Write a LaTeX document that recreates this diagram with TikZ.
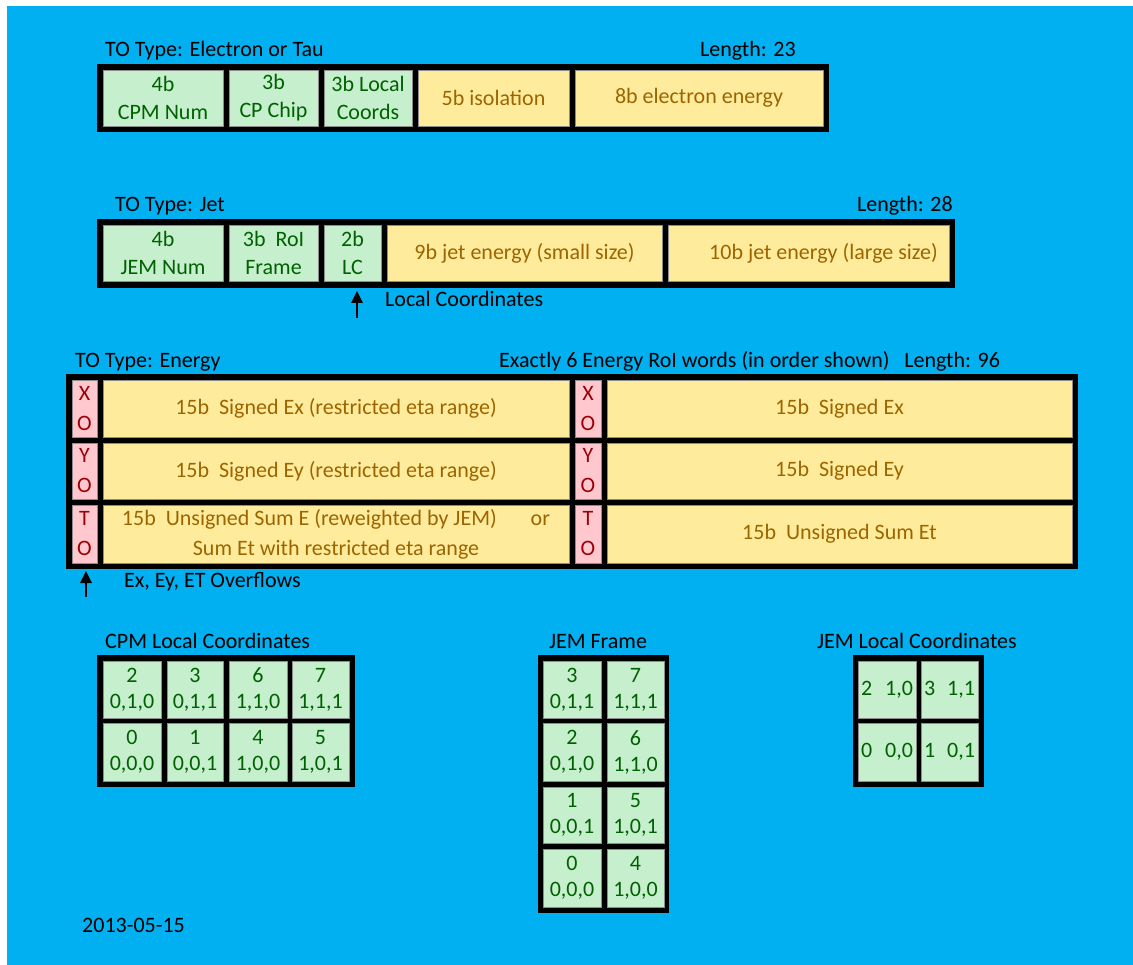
\documentclass[tikz,border=0pt]{standalone}
\usepackage{fontspec}
\setmainfont{Carlito}
\usetikzlibrary{arrows.meta}
\definecolor{bgblue}{HTML}{00B0F0}
\definecolor{gfill}{HTML}{C6EFCE}
\definecolor{gtext}{HTML}{006100}
\definecolor{yfill}{HTML}{FFEB9C}
\definecolor{ytext}{HTML}{9C6500}
\definecolor{pfill}{HTML}{FFC7CE}
\definecolor{ptext}{HTML}{9C0006}
\newcommand{\cellbox}[7]{%
  \node[#2, minimum width={(#5-#3)*1pt}, minimum height={(#6-#4)*1pt}] (#1) at ({(#3+#5)/2},{(#4+#6)/2}) {#7};}
\tikzset{
  cellbase/.style={inner sep=0pt, outer sep=0pt, align=center, font=\fontsize{22}{28}\selectfont, draw=black!45, line width=0.5pt},
  gcell/.style={cellbase, fill=gfill, text=gtext},
  ycell/.style={cellbase, fill=yfill, text=ytext},
  ycelltwo/.style={cellbase, fill=yfill, text=ytext, font=\fontsize{22}{30}\selectfont},
  pcell/.style={cellbase, fill=pfill, text=ptext, font=\fontsize{22}{30}\selectfont},
  ggrid/.style={cellbase, fill=gfill, text=gtext, font=\fontsize{22}{26}\selectfont},
  lbl/.style={anchor=base west, inner sep=0pt, font=\fontsize{22}{26}\selectfont, text=black},
  framebox/.style={fill=black},
  ptr/.style={line width=2.6pt, -{Triangle[width=11pt,length=12pt]}}
}
\begin{document}
\begin{tikzpicture}[x=1pt,y=-1pt]
\useasboundingbox (0,0) rectangle (1133,965);
\fill[white] (0,0) rectangle (1133,965);
\fill[bgblue] (7,6) rectangle (1133,965);

% ---------- Electron / Tau ----------
\node[lbl] (tEl) at (105,57) {TO Type: Electron or Tau};
\node[lbl] (lEl) at (700,57) {Length: 23};
\fill[framebox] (97,64) rectangle (829,132);
\cellbox{e1}{gcell}{103}{70}{223}{126}{4b\\CPM Num}
\cellbox{e2}{gcell}{229}{70}{318}{126}{3b\\CP Chip}
\cellbox{e3}{gcell}{324}{70}{412}{126}{3b Local\\Coords}
\cellbox{e4}{ycell}{418}{70}{569}{126}{5b isolation}
\cellbox{e5}{ycell}{575}{70}{823}{126}{8b electron energy}

% ---------- Jet ----------
\node[lbl] (tJet) at (115,212) {TO Type: Jet};
\node[lbl] (lJet) at (857,212) {Length: 28};
\fill[framebox] (97,219) rectangle (955,288);
\cellbox{j1}{gcell}{103}{225}{223}{281}{4b\\JEM Num}
\cellbox{j2}{gcell}{229}{225}{318}{281}{3b~~RoI\\Frame}
\cellbox{j3}{gcell}{324}{225}{381}{281}{2b\\LC}
\cellbox{j4}{ycell}{387}{225}{662}{281}{9b jet energy (small size)}
\cellbox{j5}{ycell}{668}{225}{949}{281}{\hspace*{30pt}10b jet energy (large size)}
\coordinate (a1s) at (357,318);
\coordinate (a1e) at (357,291);
\draw[ptr] (a1s) -- (a1e);
\node[lbl] (lc) at (385,307) {Local Coordinates};

% ---------- Energy ----------
\node[lbl] (tEn) at (75,368) {TO Type: Energy};
\node[lbl] (lEn) at (499,368) {Exactly 6 Energy RoI words (in order shown)~~~Length: 96};
\fill[framebox] (66,374) rectangle (1078,569);
\cellbox{px1}{pcell}{72}{380}{97}{437}{X\\O}
\cellbox{ex1}{ycell}{103}{380}{569}{437}{15b~~Signed Ex (restricted eta range)}
\cellbox{px2}{pcell}{575}{380}{601}{437}{X\\O}
\cellbox{ex2}{ycell}{607}{380}{1072}{437}{15b~~Signed Ex}
\cellbox{py1}{pcell}{72}{443}{97}{499}{Y\\O}
\cellbox{ey1}{ycell}{103}{443}{569}{499}{15b~~Signed Ey (restricted eta range)}
\cellbox{py2}{pcell}{575}{443}{601}{499}{Y\\O}
\cellbox{ey2}{ycell}{607}{443}{1072}{499}{15b~~Signed Ey}
\cellbox{pt1}{pcell}{72}{505}{97}{563}{T\\O}
\cellbox{et1}{ycelltwo}{103}{505}{569}{563}{15b~~Unsigned Sum E (reweighted by JEM)\hspace{34pt}or\\Sum Et with restricted eta range}
\cellbox{pt2}{pcell}{575}{505}{601}{563}{T\\O}
\cellbox{et2}{ycell}{607}{505}{1072}{563}{15b~~Unsigned Sum Et}
\coordinate (a2s) at (86,597);
\coordinate (a2e) at (86,571);
\draw[ptr] (a2s) -- (a2e);
\node[lbl] (ov) at (124,587) {Ex, Ey, ET Overflows};

% ---------- CPM Local Coordinates ----------
\node[lbl] (tCPM) at (105,648) {CPM Local Coordinates};
\fill[framebox] (97,655) rectangle (355,787);
\cellbox{c2}{ggrid}{103}{661}{161}{718}{2\\0,1,0}
\cellbox{c3}{ggrid}{167}{661}{223}{718}{3\\0,1,1}
\cellbox{c6}{ggrid}{229}{661}{287}{718}{6\\1,1,0}
\cellbox{c7}{ggrid}{292}{661}{349}{718}{7\\1,1,1}
\cellbox{c0}{ggrid}{103}{723}{161}{781}{0\\0,0,0}
\cellbox{c1}{ggrid}{167}{723}{223}{781}{1\\0,0,1}
\cellbox{c4}{ggrid}{229}{723}{287}{781}{4\\1,0,0}
\cellbox{c5}{ggrid}{292}{723}{349}{781}{5\\1,0,1}

% ---------- JEM Frame ----------
\node[lbl, anchor=base] (tJF) at (598,648) {JEM Frame};
\fill[framebox] (538,655) rectangle (669,913);
\cellbox{f3}{ggrid}{543}{661}{601}{718}{3\\0,1,1}
\cellbox{f7}{ggrid}{607}{661}{664}{718}{7\\1,1,1}
\cellbox{f2}{ggrid}{543}{723}{601}{781}{2\\0,1,0}
\cellbox{f6}{ggrid}{607}{723}{664}{781}{6\\1,1,0}
\cellbox{f1}{ggrid}{543}{787}{601}{843}{1\\0,0,1}
\cellbox{f5}{ggrid}{607}{787}{664}{843}{5\\1,0,1}
\cellbox{f0}{ggrid}{543}{849}{601}{907}{0\\0,0,0}
\cellbox{f4}{ggrid}{607}{849}{664}{907}{4\\1,0,0}

% ---------- JEM Local Coordinates ----------
\node[lbl] (tJL) at (817,648) {JEM Local Coordinates};
\fill[framebox] (853,655) rectangle (984,787);
\cellbox{l2}{ggrid}{858}{661}{916}{718}{\hbox to 52pt{2\hfill 1,0}}
\cellbox{l3}{ggrid}{921}{661}{978}{718}{\hbox to 51pt{3\hfill 1,1}}
\cellbox{l0}{ggrid}{858}{723}{916}{781}{\hbox to 52pt{0\hfill 0,0}}
\cellbox{l1}{ggrid}{921}{723}{978}{781}{\hbox to 51pt{1\hfill 0,1}}

% ---------- date ----------
\node[lbl] (date) at (82,932) {2013-05-15};
\end{tikzpicture}
\end{document}
